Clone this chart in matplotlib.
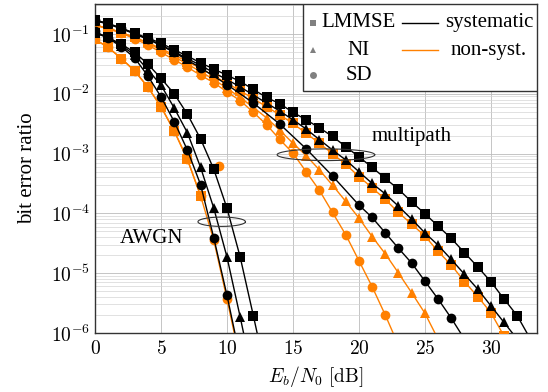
import numpy as np
import matplotlib
matplotlib.use('Agg')
import matplotlib.pyplot as plt
from matplotlib.patches import Rectangle
from matplotlib.ticker import LogLocator, NullFormatter

plt.rcParams['font.family'] = ['Liberation Serif', 'DejaVu Serif']
plt.rcParams['mathtext.fontset'] = 'cm'

orange = '#ff8000'

# values are log10(BER)
# AWGN, systematic
awgn_lmmse_x = list(range(0, 14))
awgn_lmmse = [-0.988, -1.060, -1.174, -1.308, -1.505, -1.742, -2.001, -2.342, -2.755, -3.262,
              -3.913, -4.729, -5.711, -6.72]
awgn_ni_x = list(range(0, 13))
awgn_ni = [-0.978, -1.060, -1.195, -1.350, -1.598, -1.856, -2.238, -2.652, -3.231, -3.913,
           -4.729, -5.731, -6.775]
awgn_sd_x = list(range(0, 12))
awgn_sd = [-0.957, -1.071, -1.215, -1.401, -1.701, -2.052, -2.466, -2.941, -3.520, -4.409,
           -5.370, -6.413]
# AWGN, non-systematic
awgn_lmmse_ns_x = list(range(0, 9))
awgn_lmmse_ns = [-1.091, -1.226, -1.412, -1.618, -1.887, -2.218, -2.621, -3.096, -3.706]
awgn_sd_ns_x = list(range(0, 12))
awgn_sd_ns = [-1.091, -1.226, -1.412, -1.618, -1.887, -2.218, -2.621, -3.096, -3.706, -4.450,
              -5.432, -6.465]
awgn_extra_x = [9.4]
awgn_extra = [-3.21]

# multipath, systematic
mp_lmmse_x = list(range(0, 34))
mp_lmmse = [-0.771, -0.823, -0.905, -0.988, -1.071, -1.153, -1.267, -1.370, -1.484, -1.587,
            -1.691, -1.794, -1.928, -2.063, -2.166, -2.311, -2.435, -2.569, -2.714, -2.884,
            -3.055, -3.230, -3.416, -3.597, -3.809, -4.006, -4.212, -4.419, -4.657, -4.894,
            -5.142, -5.432, -5.711, -6.103]
mp_ni_x = list(range(0, 33))
mp_ni = [-0.781, -0.833, -0.916, -0.998, -1.092, -1.184, -1.298, -1.412, -1.525, -1.649,
         -1.763, -1.887, -2.021, -2.156, -2.290, -2.435, -2.590, -2.766, -2.941, -3.107,
         -3.303, -3.499, -3.675, -3.881, -4.098, -4.326, -4.532, -4.770, -5.018, -5.266,
         -5.545, -5.824, -6.103]
mp_sd_x = [0, 2, 4, 6, 8, 10, 12, 14, 16, 18, 20, 21, 22, 23, 24, 25, 26, 27, 28]
mp_sd = [-0.766, -0.905, -1.081, -1.308, -1.567, -1.846, -2.156, -2.507, -2.920, -3.375,
         -3.861, -4.068, -4.326, -4.584, -4.832, -5.132, -5.432, -5.752, -6.103]
# multipath, non-systematic
mp_lmmse_ns_x = list(range(0, 32))
mp_lmmse_ns = [-0.854, -0.905, -0.978, -1.060, -1.143, -1.246, -1.350, -1.463, -1.577, -1.701,
               -1.825, -1.949, -2.083, -2.218, -2.352, -2.497, -2.662, -2.827, -3.003, -3.179,
               -3.385, -3.571, -3.768, -3.985, -4.181, -4.378, -4.636, -4.863, -5.142, -5.390,
               -5.659, -6.052]
mp_ni_ns_x = list(range(0, 27))
mp_ni_ns = [-0.854, -0.905, -0.978, -1.060, -1.153, -1.267, -1.381, -1.505, -1.629, -1.763,
            -1.908, -2.063, -2.228, -2.404, -2.610, -2.827, -3.034, -3.272, -3.530, -3.799,
            -4.078, -4.388, -4.677, -4.998, -5.328, -5.669, -6.103]
mp_sd_ns_x = list(range(0, 24))
mp_sd_ns = [-0.854, -0.916, -0.988, -1.081, -1.184, -1.308, -1.432, -1.556, -1.691, -1.815,
            -1.970, -2.114, -2.311, -2.517, -2.765, -2.993, -3.303, -3.613, -3.985, -4.357,
            -4.791, -5.225, -5.700, -6.207]

fig = plt.figure(figsize=(5.48, 3.92), dpi=100)
ax = fig.add_axes([0.1734, 0.1505, 0.8066, 0.8393])
ax.set_yscale('log')

def curve(x, logy, color, marker):
    ax.plot(x, 10 ** np.array(logy), color=color, marker=marker, ms=7, lw=1.0, mew=0, zorder=3)

# non-systematic first, systematic on top
curve(awgn_sd_ns_x, awgn_sd_ns, orange, 'o')
curve(awgn_lmmse_ns_x, awgn_lmmse_ns, orange, 's')
curve(awgn_extra_x, awgn_extra, orange, 'o')
curve(mp_sd_ns_x, mp_sd_ns, orange, 'o')
curve(mp_ni_ns_x, mp_ni_ns, orange, '^')
curve(mp_lmmse_ns_x, mp_lmmse_ns, orange, 's')

curve(awgn_sd_x, awgn_sd, 'black', 'o')
curve(awgn_ni_x, awgn_ni, 'black', '^')
curve(awgn_lmmse_x, awgn_lmmse, 'black', 's')
curve(mp_sd_x, mp_sd, 'black', 'o')
curve(mp_ni_x, mp_ni, 'black', '^')
curve(mp_lmmse_x, mp_lmmse, 'black', 's')

# ellipses marking the two groups
t = np.linspace(0, 2 * np.pi, 200)
for cx, cy, a, b in [(9.6, -4.14, 1.8, 0.078), (17.5, -3.02, 3.7, 0.098)]:
    ax.plot(cx + a * np.cos(t), 10 ** (cy + b * np.sin(t)), color='#333333', lw=0.8, zorder=4)

ax.text(4.3, 10 ** -4.42, 'AWGN', fontsize=15, ha='center', va='center')
ax.text(24.0, 10 ** -2.72, 'multipath', fontsize=15, ha='center', va='center')

ax.set_xlim(0, 33.5)
ax.set_ylim(1e-6, 10 ** -0.5)
ax.set_xticks(range(0, 31, 5))
ax.set_xticklabels(['$%d$' % v for v in range(0, 31, 5)])
ax.set_yticks([10.0 ** -k for k in range(6, 0, -1)])
ax.set_yticklabels(['$10^{-%d}$' % k for k in range(6, 0, -1)])
ax.yaxis.set_minor_locator(LogLocator(base=10, subs=np.arange(2, 10)))
ax.yaxis.set_minor_formatter(NullFormatter())
ax.tick_params(labelsize=14, direction='in', length=0, which='both')
ax.tick_params(axis='x', pad=5)
ax.grid(which='major', color='#bcbcbc', lw=0.6)
ax.grid(which='minor', axis='y', color='#d4d4d4', lw=0.5)
ax.set_axisbelow(True)
for s in ax.spines.values():
    s.set_color('#333333')
    s.set_linewidth(1.0)

ax.set_xlabel('$E_b/N_0\\ [\\mathrm{dB}]$', fontsize=14, labelpad=4)
ax.set_ylabel('bit error ratio', fontsize=15, labelpad=10)

# legend drawn by hand
tr = ax.transAxes
ax.add_patch(Rectangle((0.4706, 0.7356), 0.5294, 0.2644, transform=tr, fc='white',
                       ec='#333333', lw=1.0, zorder=6))
rows = [0.943, 0.860, 0.784]
for yy, m, lab in zip(rows, ['s', '^', 'o'], ['LMMSE', 'NI', 'SD']):
    ax.plot([0.493], [yy], transform=tr, marker=m, color='#808080', ms=5, mew=0,
            zorder=7, clip_on=False)
    if lab == 'LMMSE':
        ax.text(0.513, yy, lab, transform=tr, fontsize=15, ha='left', va='center', zorder=7)
    else:
        ax.text(0.597, yy, lab, transform=tr, fontsize=15, ha='center', va='center', zorder=7)
for yy, c, lab in zip(rows[:2], ['black', orange], ['systematic', 'non-syst.']):
    ax.plot([0.694, 0.776], [yy, yy], transform=tr, color=c, lw=1.0, zorder=7, clip_on=False)
    ax.text(0.891, yy, lab, transform=tr, fontsize=15, ha='center', va='center', zorder=7)

fig.savefig('out.png', dpi=100)
